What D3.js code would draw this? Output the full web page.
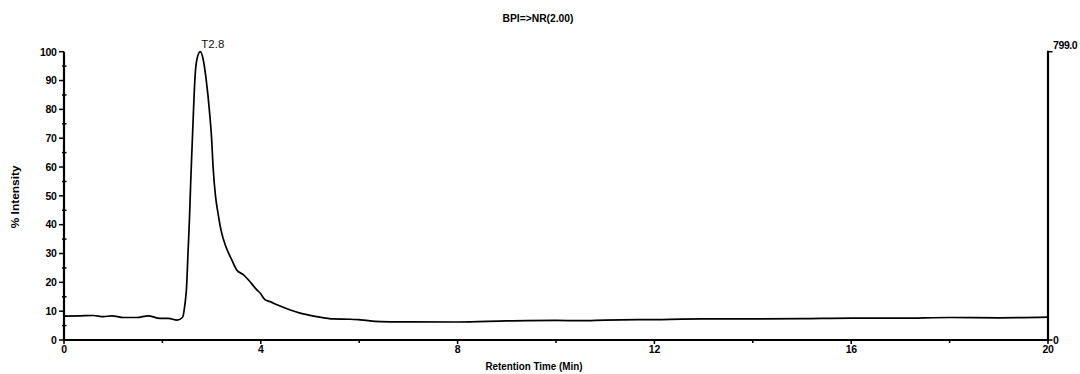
<!DOCTYPE html>
<html>
<head>
<meta charset="utf-8">
<script src="https://cdn.jsdelivr.net/npm/d3@7"></script>
<style>
  html, body { margin: 0; padding: 0; background: #fff; }
  svg { display: block; font-family: "Liberation Sans", Arial, sans-serif; }
  .tick-label { font-size: 10.5px; font-weight: bold; fill: #000; }
</style>
</head>
<body>
<svg id="chart" width="1080" height="374"></svg>
<script>
// retention time (min) and % intensity
const times = [0, 0.33, 0.6, 0.8, 0.97, 1.21, 1.48, 1.71, 1.95, 2.12, 2.30, 2.41, 2.46, 2.49, 2.52, 2.55, 2.58, 2.61, 2.63, 2.66, 2.70, 2.77, 2.83, 2.89, 2.96, 3.00, 3.03, 3.08, 3.13, 3.19, 3.29, 3.41, 3.51, 3.65, 3.75, 3.92, 3.99, 4.09, 4.19, 4.33, 4.60, 4.80, 5.14, 5.48, 5.82, 6.02, 6.43, 7.0, 8.0, 9.0, 10.0, 10.5, 11.0, 12.0, 13.0, 14.0, 15.0, 16.0, 17.0, 18.0, 19.0, 20.0];
const intensity = [8.3, 8.4, 8.5, 8.1, 8.4, 7.8, 7.8, 8.4, 7.5, 7.5, 6.9, 7.9, 12.7, 18, 30, 42, 57, 70, 78.7, 90.3, 97.2, 100, 97.2, 90.3, 78.7, 70, 60, 49.8, 44, 38.2, 32.4, 27.8, 24.3, 22.6, 20.8, 17.4, 16.2, 13.9, 13.3, 12.2, 10.4, 9.3, 8.1, 7.3, 7.2, 7.0, 6.4, 6.3, 6.25, 6.6, 6.8, 6.7, 6.9, 7.1, 7.3, 7.3, 7.4, 7.6, 7.6, 7.8, 7.7, 7.9];

const xTicks = [0, 4, 8, 12, 16, 20];
const xMinor = [2, 6, 10, 14, 18];
const yTicks = [0, 10, 20, 30, 40, 50, 60, 70, 80, 90, 100];
const yMinor = [5, 15, 25, 35, 45, 55, 65, 75, 85, 95];
const rightTicks = [0, 799.0];

const titleText = "BPI=>NR(2.00)";
const xTitle = "Retention Time (Min)";
const yTitle = "% Intensity";
const peakLabel = "T2.8";
const peakIndex = 21;

const svg = d3.select("#chart");
const plotLeft = 64, plotRight = 1048, plotTop = 51.7, plotBottom = 340;

const x = d3.scaleLinear().domain([0, 20]).range([plotLeft, plotRight]);
const y = d3.scaleLinear().domain([0, 100]).range([plotBottom, plotTop]);
const yR = d3.scaleLinear().domain([0, 799.0]).range([plotBottom, plotTop]);

const data = times.map((t, i) => ({ t, v: intensity[i] }));

// title
svg.append("text")
  .attr("x", 538).attr("y", 21.5)
  .attr("text-anchor", "middle")
  .attr("font-size", 10).attr("font-weight", "bold")
  .attr("textLength", 71).attr("lengthAdjust", "spacingAndGlyphs")
  .text(titleText);

// trace
const line = d3.line()
  .x(d => x(d.t))
  .y(d => y(d.v))
  .curve(d3.curveMonotoneX);

svg.append("path")
  .datum(data)
  .attr("fill", "none")
  .attr("stroke", "#000")
  .attr("stroke-width", 1.7)
  .attr("stroke-linejoin", "round")
  .attr("d", line);

// left axis
const yAxis = svg.append("g").attr("transform", `translate(${plotLeft},0)`);
yAxis.append("line")
  .attr("x1", 0).attr("x2", 0).attr("y1", y(100)).attr("y2", plotBottom + 1)
  .attr("stroke", "#000").attr("stroke-width", 2.2);
yAxis.selectAll(".maj").data(yTicks).join("line")
  .attr("class", "maj")
  .attr("x1", -5).attr("x2", 0).attr("y1", d => y(d)).attr("y2", d => y(d))
  .attr("stroke", "#000").attr("stroke-width", 1.5);
yAxis.selectAll(".min").data(yMinor).join("line")
  .attr("class", "min")
  .attr("x1", -2).attr("x2", 2.5).attr("y1", d => y(d)).attr("y2", d => y(d))
  .attr("stroke", "#000").attr("stroke-width", 1.5);
yAxis.selectAll(".lbl").data(yTicks).join("text")
  .attr("class", "lbl tick-label")
  .attr("x", -7.5).attr("y", d => y(d) + 3.8)
  .attr("text-anchor", "end")
  .attr("letter-spacing", -0.3)
  .text(d => d);

svg.append("text")
  .attr("transform", `translate(19,${(plotTop + plotBottom) / 2 + 1}) rotate(-90)`)
  .attr("text-anchor", "middle")
  .attr("font-size", 10).attr("font-weight", "bold")
  .attr("textLength", 63).attr("lengthAdjust", "spacingAndGlyphs")
  .text(yTitle);

// bottom axis
const xAxis = svg.append("g").attr("transform", `translate(0,${plotBottom})`);
xAxis.append("line")
  .attr("x1", plotLeft - 1).attr("x2", plotRight + 1).attr("y1", 0).attr("y2", 0)
  .attr("stroke", "#000").attr("stroke-width", 2.2);
xAxis.selectAll(".maj").data(xTicks).join("line")
  .attr("class", "maj")
  .attr("x1", d => x(d)).attr("x2", d => x(d)).attr("y1", 0).attr("y2", 4)
  .attr("stroke", "#000").attr("stroke-width", 1.5);
xAxis.selectAll(".min").data(xMinor).join("line")
  .attr("class", "min")
  .attr("x1", d => x(d)).attr("x2", d => x(d)).attr("y1", 0).attr("y2", 3)
  .attr("stroke", "#000").attr("stroke-width", 1.5);
xAxis.selectAll(".lbl").data(xTicks).join("text")
  .attr("class", "lbl tick-label")
  .attr("x", d => x(d)).attr("y", 12.7)
  .attr("text-anchor", "middle")
  .attr("letter-spacing", -0.3)
  .text(d => d);

svg.append("text")
  .attr("x", 534).attr("y", 370)
  .attr("text-anchor", "middle")
  .attr("font-size", 10).attr("font-weight", "bold")
  .attr("textLength", 97).attr("lengthAdjust", "spacingAndGlyphs")
  .text(xTitle);

// right axis (absolute intensity)
const rAxis = svg.append("g").attr("transform", `translate(${plotRight},0)`);
rAxis.append("line")
  .attr("x1", 0).attr("x2", 0).attr("y1", yR(799.0) - 1).attr("y2", plotBottom + 1)
  .attr("stroke", "#000").attr("stroke-width", 2.2);
rAxis.selectAll(".tk").data(rightTicks).join("line")
  .attr("class", "tk")
  .attr("x1", 0).attr("x2", 4.5).attr("y1", d => yR(d)).attr("y2", d => yR(d))
  .attr("stroke", "#000").attr("stroke-width", 1.5);
rAxis.selectAll(".lbl").data(rightTicks).join("text")
  .attr("class", "lbl tick-label")
  .attr("x", 5).attr("y", d => yR(d) + (d === 0 ? 3.5 : -2.5))
  .attr("font-size", 10)
  .attr("letter-spacing", -0.4)
  .text(d => d === 0 ? "0" : d.toFixed(1));

// peak label
const pk = data[peakIndex];
svg.append("text")
  .attr("x", x(pk.t) + 1).attr("y", y(pk.v) - 3.5)
  .attr("font-size", 11.5)
  .attr("fill", "#111")
  .text(peakLabel);
</script>
</body>
</html>
